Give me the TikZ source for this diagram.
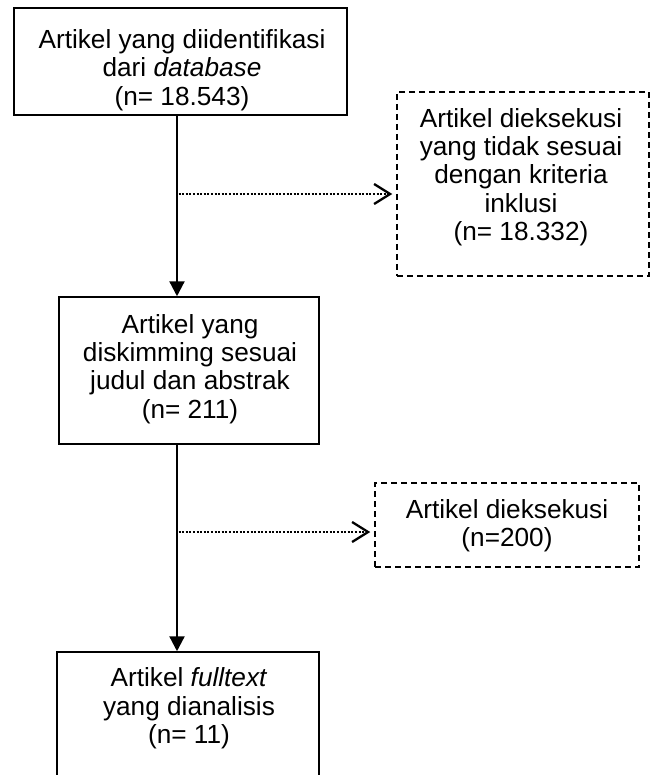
\documentclass[tikz,border=0pt]{standalone}
\usepackage{fontspec}
\setmainfont{Liberation Sans}
\usetikzlibrary{arrows.meta}
\begin{document}
\begin{tikzpicture}[x=1pt,y=1pt,
  solidbox/.style={draw=black, line width=1.5pt, rectangle, inner sep=0pt},
  dashbox/.style={draw=black, line width=1.5pt, rectangle, inner sep=0pt, dash pattern=on 6pt off 4pt},
  txt/.style={align=center, inner sep=0pt, font=\fontsize{26.2}{28.3}\selectfont},
  mainarrow/.style={line width=2.3pt, -{Triangle[length=15pt,width=15pt]}},
  sidearrow/.style={line width=2.2pt, dash pattern=on 2pt off 1.6pt, -{Straight Barb[length=16pt,width=20pt,line width=2.3pt]}, shorten >=4pt}
]
\useasboundingbox (0,0) rectangle (656,-775);
\clip (0,0) rectangle (656,-775);
\fill[white] (0,0) rectangle (656,-775);

% boxes
\node[solidbox, minimum width=333pt, minimum height=107pt] (b1) at (180.5,-61.5) {};
\node[txt] (t1) at (182,-70) {Artikel yang diidentifikasi\\dari \textit{database}\\(n= 18.543)};

\node[dashbox, minimum width=252pt, minimum height=184pt] (b3) at (523,-184) {};
\node[txt] (t3) at (521,-177) {Artikel dieksekusi\\yang tidak sesuai\\dengan kriteria\\inklusi\\(n= 18.332)};

\node[solidbox, minimum width=260pt, minimum height=147pt] (b2) at (189,-370.5) {};
\node[txt] (t2) at (190,-369) {Artikel yang\\diskimming sesuai\\judul dan abstrak\\(n= 211)};

\node[dashbox, minimum width=264pt, minimum height=84pt] (b5) at (507,-525) {};
\node[txt] (t5) at (507,-525.5) {Artikel dieksekusi\\(n=200)};

\node[solidbox, minimum width=262pt, minimum height=148pt] (b4) at (188,-726) {};
\node[txt] (t4) at (189,-708.5) {Artikel \textit{fulltext}\\yang dianalisis\\(n= 11)};

% connector points
\coordinate (c1top) at (177,-115);
\coordinate (c1bot) at (177,-297);
\coordinate (s1) at (177,-194);
\coordinate (c2top) at (177,-444);
\coordinate (c2bot) at (177,-652);
\coordinate (s2) at (177,-532);

% main arrows
\draw[mainarrow] (c1top |- b1.south) -- (c1bot |- b2.north);
\draw[mainarrow] (c2top |- b2.south) -- (c2bot |- b4.north);

% side arrows
\draw[sidearrow] ([xshift=1.5pt]s1) -- (s1 -| b3.west);
\draw[sidearrow] ([xshift=1.5pt]s2) -- (s2 -| b5.west);
\end{tikzpicture}
\end{document}
